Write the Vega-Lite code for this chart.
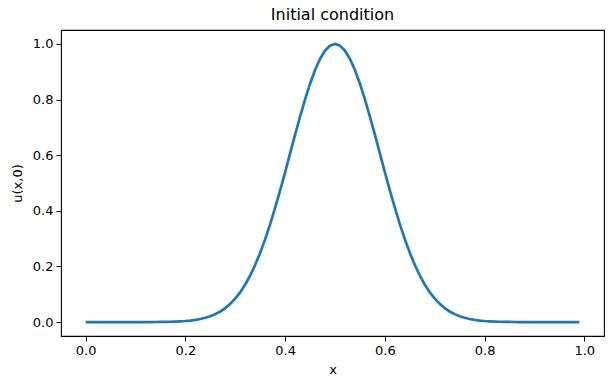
{
  "$schema": "https://vega.github.io/schema/vega-lite/v6.json",
  "width": 543,
  "height": 306,
  "autosize": {"type": "none"},
  "padding": {"left": 61, "top": 30, "right": 9, "bottom": 55},
  "background": "white",
  "title": {"text": "Initial condition", "font": "DejaVu Sans", "fontSize": 16, "fontWeight": "normal", "color": "black", "offset": 7, "anchor": "middle"},
  "data": {"values": [
    {"x": 0.00, "u": 0}, {"x": 0.01, "u": 0}, {"x": 0.02, "u": 0}, {"x": 0.03, "u": 0}, {"x": 0.04, "u": 0},
    {"x": 0.05, "u": 0}, {"x": 0.06, "u": 0}, {"x": 0.07, "u": 0}, {"x": 0.08, "u": 0.00001}, {"x": 0.09, "u": 0.00003},
    {"x": 0.10, "u": 0.00005}, {"x": 0.11, "u": 0.00008}, {"x": 0.12, "u": 0.00013}, {"x": 0.13, "u": 0.00021}, {"x": 0.14, "u": 0.00034},
    {"x": 0.15, "u": 0.00052}, {"x": 0.16, "u": 0.0008}, {"x": 0.17, "u": 0.0012}, {"x": 0.18, "u": 0.0018}, {"x": 0.19, "u": 0.00265},
    {"x": 0.20, "u": 0.00387}, {"x": 0.21, "u": 0.00556}, {"x": 0.22, "u": 0.00791}, {"x": 0.23, "u": 0.01111}, {"x": 0.24, "u": 0.01541},
    {"x": 0.25, "u": 0.02111}, {"x": 0.26, "u": 0.02857}, {"x": 0.27, "u": 0.03818}, {"x": 0.28, "u": 0.05041}, {"x": 0.29, "u": 0.06573},
    {"x": 0.30, "u": 0.08465}, {"x": 0.31, "u": 0.10772}, {"x": 0.32, "u": 0.13534}, {"x": 0.33, "u": 0.16797}, {"x": 0.34, "u": 0.20595},
    {"x": 0.35, "u": 0.24935}, {"x": 0.36, "u": 0.29824}, {"x": 0.37, "u": 0.35232}, {"x": 0.38, "u": 0.41111}, {"x": 0.39, "u": 0.47384},
    {"x": 0.40, "u": 0.53941}, {"x": 0.41, "u": 0.60653}, {"x": 0.42, "u": 0.67363}, {"x": 0.43, "u": 0.73897}, {"x": 0.44, "u": 0.80074},
    {"x": 0.45, "u": 0.857}, {"x": 0.46, "u": 0.90595}, {"x": 0.47, "u": 0.94596}, {"x": 0.48, "u": 0.97561}, {"x": 0.49, "u": 0.99385},
    {"x": 0.50, "u": 1.0}, {"x": 0.51, "u": 0.99385}, {"x": 0.52, "u": 0.97561}, {"x": 0.53, "u": 0.94596}, {"x": 0.54, "u": 0.90595},
    {"x": 0.55, "u": 0.857}, {"x": 0.56, "u": 0.80074}, {"x": 0.57, "u": 0.73897}, {"x": 0.58, "u": 0.67363}, {"x": 0.59, "u": 0.60653},
    {"x": 0.60, "u": 0.53941}, {"x": 0.61, "u": 0.47384}, {"x": 0.62, "u": 0.41111}, {"x": 0.63, "u": 0.35232}, {"x": 0.64, "u": 0.29824},
    {"x": 0.65, "u": 0.24935}, {"x": 0.66, "u": 0.20595}, {"x": 0.67, "u": 0.16797}, {"x": 0.68, "u": 0.13534}, {"x": 0.69, "u": 0.10772},
    {"x": 0.70, "u": 0.08465}, {"x": 0.71, "u": 0.06573}, {"x": 0.72, "u": 0.05041}, {"x": 0.73, "u": 0.03818}, {"x": 0.74, "u": 0.02857},
    {"x": 0.75, "u": 0.02111}, {"x": 0.76, "u": 0.01541}, {"x": 0.77, "u": 0.01111}, {"x": 0.78, "u": 0.00791}, {"x": 0.79, "u": 0.00556},
    {"x": 0.80, "u": 0.00387}, {"x": 0.81, "u": 0.00265}, {"x": 0.82, "u": 0.0018}, {"x": 0.83, "u": 0.0012}, {"x": 0.84, "u": 0.0008},
    {"x": 0.85, "u": 0.00052}, {"x": 0.86, "u": 0.00034}, {"x": 0.87, "u": 0.00021}, {"x": 0.88, "u": 0.00013}, {"x": 0.89, "u": 0.00008},
    {"x": 0.90, "u": 0.00005}, {"x": 0.91, "u": 0.00003}, {"x": 0.92, "u": 0.00001}, {"x": 0.93, "u": 0}, {"x": 0.94, "u": 0},
    {"x": 0.95, "u": 0}, {"x": 0.96, "u": 0}, {"x": 0.97, "u": 0}, {"x": 0.98, "u": 0}, {"x": 0.99, "u": 0}
  ]},
  "mark": {"type": "line", "color": "#1f77b4", "strokeWidth": 2.7, "clip": true},
  "encoding": {
    "x": {"field": "x", "type": "quantitative",
      "scale": {"domain": [-0.0495, 1.0395], "nice": false, "zero": false},
      "axis": {"title": "x", "values": [0, 0.2, 0.4, 0.6, 0.8, 1.0], "format": ".1f", "titlePadding": 6}},
    "y": {"field": "u", "type": "quantitative",
      "scale": {"domain": [-0.05, 1.05], "nice": false, "zero": false},
      "axis": {"title": "u(x,0)", "values": [0, 0.2, 0.4, 0.6, 0.8, 1.0], "format": ".1f", "titlePadding": 8}}
  },
  "config": {
    "view": {"stroke": "black", "strokeWidth": 1.1},
    "axis": {
      "grid": false,
      "domain": false,
      "tickColor": "black",
      "tickSize": 5,
      "tickWidth": 1,
      "labelColor": "black",
      "labelFont": "DejaVu Sans",
      "labelFontSize": 13,
      "labelPadding": 3,
      "titleColor": "black",
      "titleFont": "DejaVu Sans",
      "titleFontSize": 13,
      "titleFontWeight": "normal"
    }
  }
}
